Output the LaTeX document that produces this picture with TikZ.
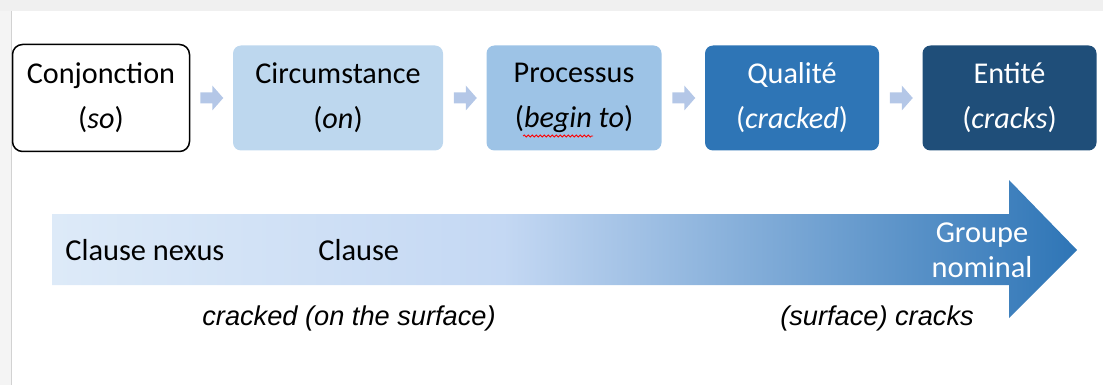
\documentclass[tikz,border=0pt]{standalone}
\usepackage{fontspec}
\setmainfont{Carlito}
\newfontfamily\arialfont{Liberation Sans}
\usetikzlibrary{positioning,calc,decorations.pathmorphing}
\definecolor{circblue}{HTML}{BDD7EE}
\definecolor{procblue}{HTML}{9DC3E6}
\definecolor{qualblue}{HTML}{2E75B6}
\definecolor{entblue}{HTML}{1F4E79}
\definecolor{arrowblue}{HTML}{B4C7E7}
\definecolor{framegray}{HTML}{F0F0F0}
\definecolor{frameleft}{HTML}{F4F4F4}
\definecolor{frameline}{HTML}{D2D2D2}
\pgfdeclarehorizontalshading{bigarrow}{100bp}{rgb(0bp)=(0.867,0.918,0.973); rgb(25bp)=(0.867,0.918,0.973); rgb(47bp)=(0.769,0.847,0.953); rgb(75bp)=(0.18,0.459,0.714); rgb(100bp)=(0.18,0.459,0.714)}

\begin{document}
\begin{tikzpicture}[x=0.5pt,y=-0.5pt,node distance=21.75pt,
  stage node/.style={rectangle,rounded corners=4pt,outer sep=0pt,minimum height=52.5pt,
    align=center,font=\fontsize{15.1}{22.5}\selectfont},
  small arrow/.style={fill=arrowblue},
  band text/.style={inner sep=0pt,font=\fontsize{15.2}{17.5}\selectfont},
  example text/.style={inner sep=0pt,font=\arialfont\itshape\fontsize{13.6}{16}\selectfont}]

  \useasboundingbox (0,0) rectangle (1103,385);
  % window frame
  \fill[frameleft] (0,0) rectangle (11,385);
  \fill[framegray] (0,0) rectangle (1103,11);
  \draw[frameline] (11.5,11) -- (11.5,385);

  % the five stages
  \node[stage node,draw=black,line width=0.75pt,rounded corners=5pt,minimum width=88.5pt,minimum height=53.5pt] (conj) at (101,98) {Conjonction\\(\textit{so})};
  \node[stage node,fill=circblue,minimum width=105pt,right=of conj] (circ) {Circumstance\\(\textit{on})};
  \node[stage node,fill=procblue,minimum width=87.5pt,right=of circ] (proc) {Processus\\(\textit{begin to})};
  \node[stage node,fill=qualblue,text=white,minimum width=87pt,right=of proc] (qual) {Qualité\\(\textit{cracked})};
  \node[stage node,fill=entblue,text=white,minimum width=87pt,right=of qual] (ent) {Entité\\(\textit{cracks})};

  \draw[red,line width=0.4pt,decorate,decoration={snake,amplitude=0.5pt,segment length=2pt}]
    ($(proc.center)+(-51,38)$) -- ($(proc.center)+(19,38)$);

  \foreach \a/\b in {conj/circ,circ/proc,proc/qual,qual/ent}
    \fill[small arrow] ($(\a.east)!0.5!(\b.west)$) ++(-11,-5.5) -- ++(12,0) -- ++(0,-7)
      -- ++(11,12.5) -- ++(-11,12.5) -- ++(0,-7) -- ++(-12,0) -- cycle;

  % the big arrow
  \shade[shading=bigarrow] (52,214) -- (1009,214) -- (1009,180) -- (1077,250)
    -- (1009,318) -- (1009,285) -- (52,285) -- cycle;

  \node[band text,anchor=west] (nexus) at (65,250) {Clause nexus};
  \node[band text,anchor=west] (clause) at (318,250) {Clause};
  \node[band text,text=white,align=center] (groupe) at (982,250) {Groupe\\nominal};

  \node[example text] (verbal) at (349,318) {cracked (on the surface)};
  \node[example text] (nominal) at (877,318) {(surface) cracks};
\end{tikzpicture}
\end{document}
